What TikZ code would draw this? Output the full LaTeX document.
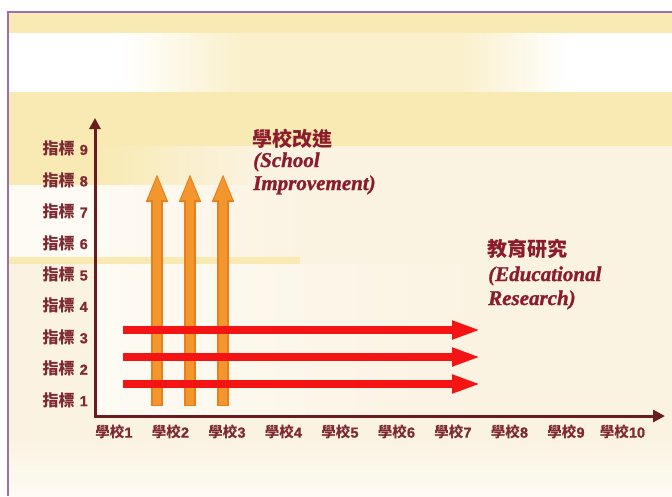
\documentclass[tikz,border=0pt]{standalone}
\usepackage{fontspec}
\usetikzlibrary{arrows.meta}
\newfontfamily\cjk{Noto Sans CJK TC}
\newfontfamily\latinbi{Liberation Serif}[BoldItalicFeatures={FakeBold=1.2}]
\newfontfamily\digs{Liberation Sans}[BoldFeatures={FakeBold=1}]
\definecolor{bandY}{HTML}{F8EAB2}
\definecolor{bandY2}{HTML}{FAF0CC}
\definecolor{cream}{HTML}{FBF3E2}
\definecolor{paleW}{HTML}{FEFBF4}
\definecolor{framec}{HTML}{9C70AE}
\definecolor{axisc}{HTML}{6A1B22}
\definecolor{labc}{HTML}{7E2A33}
\definecolor{titc}{HTML}{8B1C2C}
\definecolor{orangeA}{HTML}{F2962D}
\definecolor{orangeD}{HTML}{E5801C}
\definecolor{redA}{HTML}{F41414}
\newcommand{\dg}[1]{{\digs\bfseries\fontsize{14.5}{14.5}\selectfont #1}}
\tikzset{
  ylab/.style={anchor=east, inner sep=0pt, text=labc, font=\cjk\bfseries\fontsize{16}{16}\selectfont},
  xlab/.style={anchor=center, inner sep=0pt, text=labc, font=\cjk\bfseries\fontsize{14.5}{14.5}\selectfont},
  ttlcjk/.style={anchor=west, inner sep=0pt, text=titc, font=\cjk\bfseries\fontsize{20}{20}\selectfont},
  ttlen/.style={anchor=base west, inner sep=0pt, text=titc, font=\latinbi\bfseries\itshape\fontsize{21}{21}\selectfont},
  axisline/.style={draw=axisc, line width=3pt, {Triangle[width=11pt,length=11pt]}-{Triangle[width=12pt,length=12pt]}},
  oarrowedge/.style={draw=orangeD, line width=11.5pt, -{Triangle[width=20pt,length=29pt]}},
  oarrow/.style={draw=orangeA, line width=8.5pt, -{Triangle[width=16pt,length=25pt]}},
  rarrow/.style={draw=redA, line width=8pt, -{Triangle[width=17pt,length=29pt]}},
}
\begin{document}
\begin{tikzpicture}[x=1pt,y=-1pt]
\useasboundingbox (0,0) rectangle (672,496);
% background
\fill[white] (0,0) rectangle (672,496);
\fill[cream] (8,12) rectangle (672,496);
\fill[bandY] (8,12) rectangle (672,33);
\fill[white] (8,33) rectangle (672,92);
\shade[left color=white, right color=bandY2] (120,33) rectangle (240,92);
\fill[bandY2] (240,33) rectangle (460,92);
\shade[left color=bandY2, right color=white] (460,33) rectangle (570,92);
\fill[bandY] (8,92) rectangle (672,146);
\fill[bandY] (8,146) rectangle (95,185);
\shade[left color=bandY, right color=cream] (95,146) rectangle (260,185);
\fill[paleW] (8,185) rectangle (95,257);
\shade[left color=paleW, right color=cream] (95,185) rectangle (300,257);
\fill[bandY] (8,257) rectangle (300,264);
\shade[left color=paleW, right color=cream] (95,264) rectangle (470,416);
\shade[top color=cream, bottom color=paleW] (8,440) rectangle (672,496);
% frame
\draw[framec, line width=2pt] (8,496) -- (8,12) -- (672,12);
% orange arrows
\coordinate (o1b) at (157,406); \coordinate (o1t) at (157,173);
\coordinate (o2b) at (190,406); \coordinate (o2t) at (190,173);
\coordinate (o3b) at (223,406); \coordinate (o3t) at (223,173);
\draw[oarrowedge] (o1b) -- (o1t);
\draw[oarrowedge] (o2b) -- (o2t);
\draw[oarrowedge] (o3b) -- (o3t);
\draw[oarrow] ([yshift=1.5pt]o1b) -- ([yshift=-2pt]o1t);
\draw[oarrow] ([yshift=1.5pt]o2b) -- ([yshift=-2pt]o2t);
\draw[oarrow] ([yshift=1.5pt]o3b) -- ([yshift=-2pt]o3t);
% red arrows
\coordinate (r1s) at (123,384); \coordinate (r1e) at (481,384);
\coordinate (r2s) at (123,357); \coordinate (r2e) at (481,357);
\coordinate (r3s) at (123,330); \coordinate (r3e) at (481,330);
\draw[rarrow] (r1s) -- (r1e);
\draw[rarrow] (r2s) -- (r2e);
\draw[rarrow] (r3s) -- (r3e);
% axes
\coordinate (ytop) at (95,118);
\coordinate (xend) at (665,416);
\draw[axisline] (ytop) |- (xend);
% labels
\foreach \n in {1,...,9}
  \node[ylab] (y\n) at (88,{400-(\n-1)*31.4}) {指標\hspace{5pt}\dg{\n}};
\foreach \n in {1,...,10}
  \node[xlab] (x\n) at ({114+(\n-1)*56.5},432) {學校\dg{\n}};
% titles
\node[ttlcjk] (t1) at (252,139) {學校改進};
\node[ttlen] (t1a) at (253,167) {(School};
\node[ttlen] (t1b) at (253,190) {Improvement)};
\node[ttlcjk] (t2) at (487,249) {教育研究};
\node[ttlen] (t2a) at (488,281) {(Educational};
\node[ttlen] (t2b) at (488,305) {Research)};
\end{tikzpicture}
\end{document}
